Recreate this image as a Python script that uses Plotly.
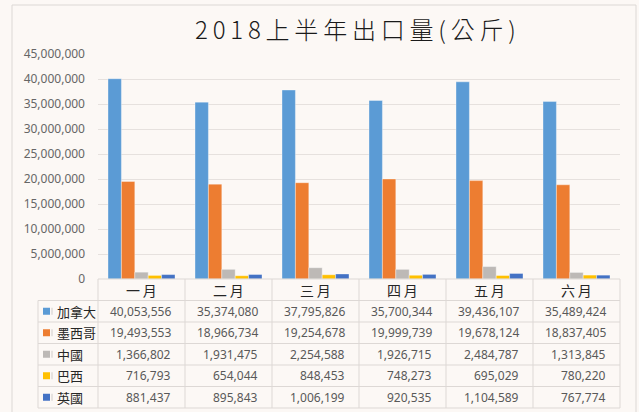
import plotly.graph_objects as go

months = ["一月", "二月", "三月", "四月", "五月", "六月"]
series_names = ["加拿大", "墨西哥", "中國", "巴西", "英國"]
canada = [40053556, 35374080, 37795826, 35700344, 39436107, 35489424]
mexico = [19493553, 18966734, 19254678, 19999739, 19678124, 18837405]
china = [1366802, 1931475, 2254588, 1926715, 2484787, 1313845]
brazil = [716793, 654044, 848453, 748273, 695029, 780220]
uk = [881437, 895843, 1006199, 920535, 1104589, 767774]
series_values = [canada, mexico, china, brazil, uk]
colors = ["#5B9BD5", "#ED7D31", "#BDB9B6", "#FFC000", "#4472C4"]
title_text = "2018上半年出口量(公斤)"

W, H = 639, 412
L, R, T, B = 98, 19, 54, 133
PW = W - L - R
PH = H - T - B


def px(x):
    return (x - L) / PW


def py(y):
    return (H - B - y) / PH


BG = "#FCF8F5"
GRID = "#E6E1DE"
TLINE = "#DDD8D5"

fig = go.Figure()
for name, vals, col in zip(series_names, series_values, colors):
    fig.add_trace(go.Bar(
        x=months, y=vals, name=name,
        marker=dict(color=col, line=dict(color="rgba(255,255,255,0.35)", width=1)),
        showlegend=False,
    ))

shapes = []
annotations = []

# outer chart border
shapes.append(dict(type="rect", xref="paper", yref="paper",
                   x0=px(12), x1=px(636), y0=py(440), y1=py(5),
                   line=dict(color="#DCD8D5", width=1), fillcolor="rgba(0,0,0,0)",
                   layer="below"))

# table geometry
col_w = PW / len(months)
row_tops = [279 + 21.5 * i for i in range(len(series_names) + 2)]
table_bottom = row_tops[-1]
left_edge = 38

shapes.append(dict(type="line", xref="paper", yref="paper",
                   x0=px(L), x1=px(L + PW), y0=py(row_tops[0]), y1=py(row_tops[0]),
                   line=dict(color=TLINE, width=1)))
for yy in row_tops[1:]:
    shapes.append(dict(type="line", xref="paper", yref="paper",
                       x0=px(left_edge), x1=px(L + PW), y0=py(yy), y1=py(yy),
                       line=dict(color=TLINE, width=1)))
shapes.append(dict(type="line", xref="paper", yref="paper",
                   x0=px(left_edge), x1=px(left_edge), y0=py(row_tops[1]), y1=py(table_bottom),
                   line=dict(color=TLINE, width=1)))
for i in range(len(months) + 1):
    xx = L + col_w * i
    shapes.append(dict(type="line", xref="paper", yref="paper",
                       x0=px(xx), x1=px(xx), y0=py(row_tops[0]), y1=py(table_bottom),
                       line=dict(color=TLINE, width=1)))

# header months (slightly spaced)
for i, m in enumerate(months):
    annotations.append(dict(xref="paper", yref="paper",
                            x=px(L + col_w * (i + 0.5)), y=py((row_tops[0] + row_tops[1]) / 2),
                            text="\u2009".join(m), showarrow=False, xanchor="center", yanchor="middle",
                            font=dict(family="Noto Sans CJK TC", size=14, color="#262626")))

# rows
for r, (name, vals, col) in enumerate(zip(series_names, series_values, colors)):
    yc = (row_tops[r + 1] + row_tops[r + 2]) / 2
    shapes.append(dict(type="rect", xref="paper", yref="paper",
                       x0=px(43), x1=px(50), y0=py(yc + 3.5), y1=py(yc - 3.5),
                       fillcolor=col, line=dict(width=0)))
    shapes.append(dict(type="line", xref="paper", yref="paper",
                       x0=px(52), x1=px(52), y0=py(yc + 3.5), y1=py(yc - 3.5),
                       line=dict(color="#D0CCC9", width=1)))
    annotations.append(dict(xref="paper", yref="paper", x=px(55), y=py(yc),
                            text=name, showarrow=False, xanchor="left", yanchor="middle",
                            font=dict(family="Noto Sans CJK TC", size=13, color="#262626")))
    for i, v in enumerate(vals):
        annotations.append(dict(xref="paper", yref="paper",
                                x=px(L + col_w * (i + 1) - 12), y=py(yc),
                                text=f"{v:,}", showarrow=False, xanchor="right", yanchor="middle",
                                font=dict(family="Noto Sans", size=12, color="#595959")))

# title with letter spacing
annotations.append(dict(xref="paper", yref="paper", x=px(355), y=py(29),
                        text="\u2009".join(title_text), showarrow=False,
                        xanchor="center", yanchor="middle",
                        font=dict(family="Noto Sans CJK TC", size=24, color="#1A1A1A", weight=300)))

fig.update_layout(
    width=W, height=H,
    margin=dict(l=L, r=R, t=T, b=B, pad=0),
    paper_bgcolor=BG, plot_bgcolor=BG,
    barmode="group", bargap=0.23, bargroupgap=0,
    shapes=shapes, annotations=annotations,
    xaxis=dict(showticklabels=False, showgrid=False, zeroline=False, showline=False,
               range=[-0.5, 5.5], fixedrange=True),
    yaxis=dict(range=[0, 45000000], dtick=5000000, tickformat=",", showgrid=True,
               gridcolor=GRID, gridwidth=1, zeroline=False, showline=False,
               ticks="", ticklabelstandoff=12,
               tickfont=dict(family="Noto Sans", size=12, color="#666666")),
)

fig.write_html("out.html")
